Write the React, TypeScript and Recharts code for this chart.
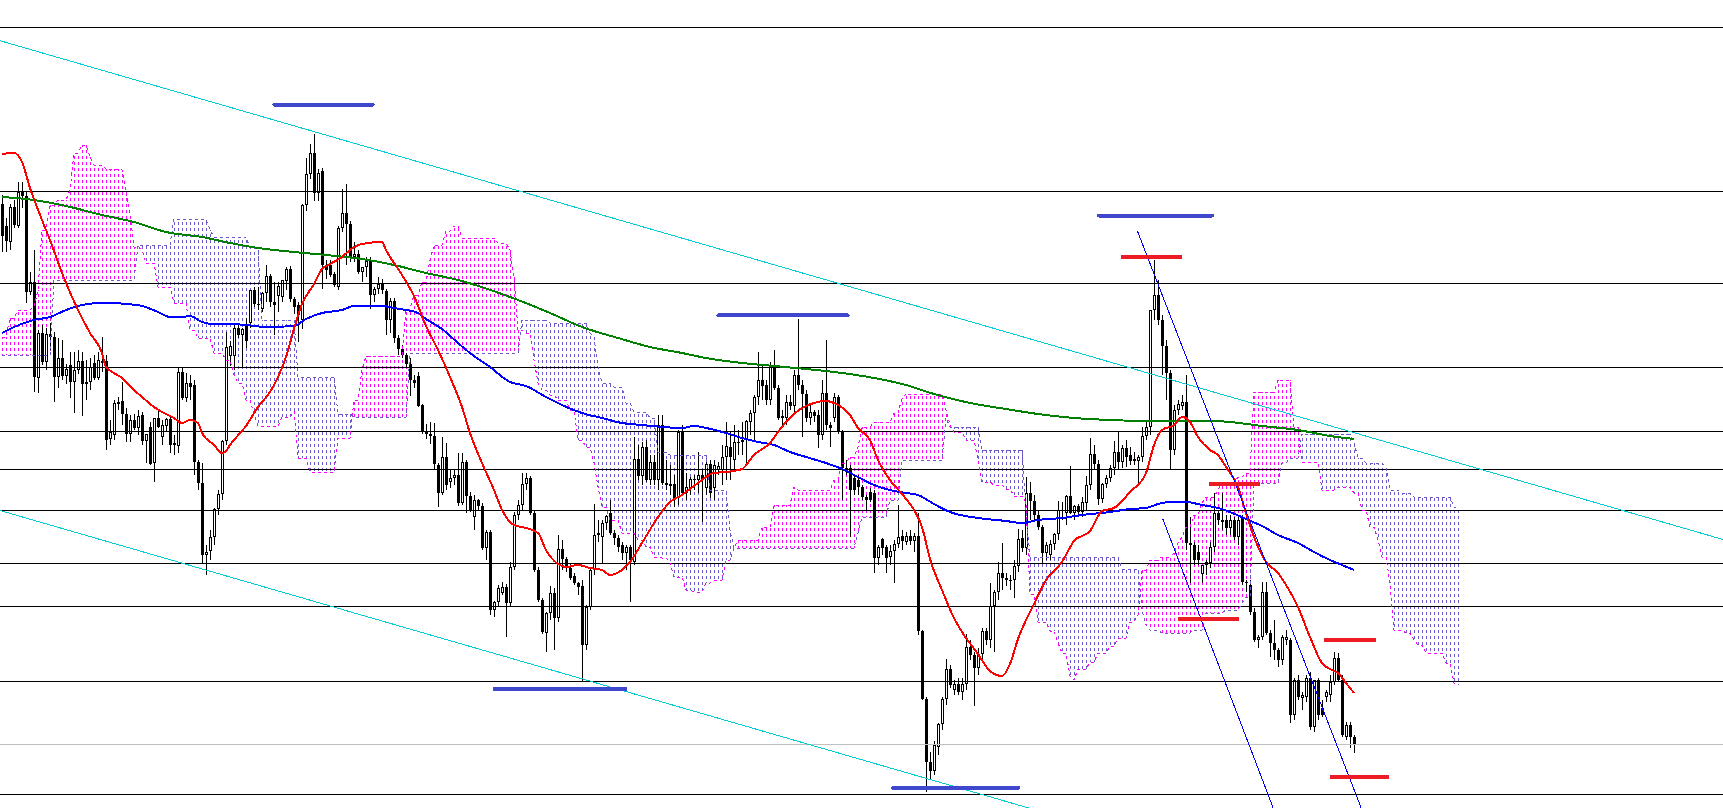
import React from 'react';
import { ComposedChart, Bar, Line, XAxis, YAxis, ReferenceLine } from 'recharts';

// Chart size and value domains (bar index on X, price points on Y)
const W = 1723;
const H = 808;
const X_DOMAIN: [number, number] = [-0.5, 430.25];
const Y_DOMAIN: [number, number] = [192, 1000];

// Candles: [open, high, low, close] in price points, one per bar
const candles: number[][] = [
  [796,805,748,764],[774,782,748,759],[758,796,750,793],[793,800,772,775],[774,818,772,808],[808,818,792,804],[804,808,697,708],[708,728,705,718],[718,750,608,623],[622,670,607,667],
  [667,675,635,638],[638,672,630,666],[666,677,650,663],[663,668,598,623],[623,662,612,642],[642,660,620,624],[624,636,616,631],[635,648,602,618],[618,648,587,630],[630,650,626,639],
  [639,648,584,616],[616,640,600,618],[618,642,610,633],[637,645,620,622],[622,648,620,640],[639,663,628,637],[639,645,550,560],[561,580,555,568],[565,600,560,597],[596,603,590,598],
  [599,618,575,586],[586,592,558,566],[566,585,558,580],[580,586,570,572],[572,590,565,584],[585,588,555,559],[559,566,537,566],[573,578,535,536],[537,582,518,582],[582,590,572,573],
  [563,580,555,575],[574,582,568,581],[581,584,547,555],[557,565,545,555],[554,632,547,628],[628,632,600,602],[602,627,598,617],[617,625,600,613],[615,620,525,538],[538,540,510,517],
  [517,537,437,445],[445,455,425,448],[449,470,440,463],[463,492,455,491],[491,510,485,506],[506,560,500,559],[559,668,555,653],[644,659,634,654],[644,677,630,672],[672,677,662,665],
  [665,672,632,671],[676,682,652,659],[677,710,672,710],[710,713,693,696],[696,713,690,695],[691,708,688,707],[707,735,698,724],[724,726,693,698],[698,718,665,695],[704,718,688,714],
  [703,720,698,720],[719,733,710,731],[731,734,698,701],[701,703,686,693],[695,698,658,685],[680,796,671,795],[795,842,789,826],[826,856,821,847],[847,866,799,807],[807,831,799,827],
  [829,832,711,735],[735,740,721,730],[735,740,723,725],[726,728,713,715],[713,774,710,772],[772,811,768,787],[787,816,735,776],[776,779,738,743],[743,758,738,746],[746,750,726,728],
  [728,733,718,733],[733,743,723,739],[739,743,691,705],[705,713,698,711],[711,723,706,716],[716,721,706,710],[709,711,665,680],[680,702,667,699],[699,702,657,662],[662,665,645,651],
  [651,655,642,645],[645,647,632,636],[636,642,604,620],[620,625,612,617],[624,628,593,594],[595,596,566,568],[568,576,561,566],[566,578,556,564],[564,577,531,536],[535,537,493,507],
  [507,563,505,543],[543,557,510,515],[518,530,512,522],[522,530,515,525],[525,547,494,497],[497,547,495,538],[538,540,487,504],[504,508,488,489],[483,505,470,500],[500,501,490,494],
  [494,497,450,452],[452,470,440,468],[468,470,385,390],[390,399,383,398],[398,415,393,412],[407,418,405,413],[413,416,363,397],[397,438,394,433],[433,488,430,485],[485,500,480,495],
  [495,527,490,516],[516,527,510,522],[522,524,485,487],[487,490,428,430],[430,433,398,400],[400,402,366,368],[367,388,348,387],[387,414,380,407],[407,412,350,382],[382,465,378,451],
  [451,460,430,441],[441,443,428,432],[432,437,420,422],[424,427,415,417],[417,418,405,413],[414,420,318,355],[355,395,350,393],[393,433,390,430],[430,496,425,465],[465,480,458,467],
  [463,480,437,477],[477,485,470,484],[487,500,465,467],[467,470,455,462],[462,465,448,453],[455,458,440,447],[447,455,430,453],[453,455,398,440],[438,563,435,541],[541,555,520,524],
  [524,558,515,553],[553,560,518,520],[520,545,515,538],[538,545,515,520],[520,585,510,575],[575,585,515,517],[517,540,510,515],[516,535,505,514],[516,525,493,502],[502,570,495,568],
  [568,575,505,507],[507,527,500,513],[512,523,505,521],[521,525,510,520],[520,548,507,525],[525,530,478,520],[512,538,505,536],[536,540,502,507],[512,540,500,535],[530,538,525,534],
  [530,555,515,543],[543,578,520,554],[553,568,520,543],[540,575,530,558],[557,570,545,558],[558,578,545,560],[560,580,535,579],[578,590,565,587],[587,605,560,603],[603,648,595,620],
  [620,635,600,614],[615,620,595,600],[600,638,595,635],[635,650,610,612],[612,615,580,582],[582,590,575,584],[582,605,575,598],[598,605,590,594],[594,630,588,625],[625,681,610,615],
  [615,620,563,606],[606,610,578,582],[582,595,575,588],[588,590,578,584],[585,590,552,565],[565,620,560,607],[607,660,570,575],[575,578,553,572],[582,607,578,603],[603,605,566,568],
  [568,570,500,532],[532,540,525,528],[532,535,463,510],[522,525,505,510],[520,525,505,513],[513,515,500,503],[503,505,490,500],[508,512,498,500],[507,510,427,442],[442,455,435,453],
  [461,462,445,452],[453,455,427,442],[443,455,435,449],[449,460,417,456],[456,495,452,463],[464,470,450,459],[458,468,455,464],[464,470,455,459],[459,467,448,464],[464,487,365,369],
  [369,370,300,301],[301,303,208,238],[238,248,220,229],[229,259,225,255],[253,277,245,276],[276,303,270,301],[301,341,295,331],[331,335,312,315],[310,320,305,316],[316,322,305,308],
  [308,322,300,316],[316,366,310,353],[353,360,340,345],[345,348,294,332],[332,352,325,346],[346,372,340,369],[369,372,355,360],[360,417,352,394],[394,410,348,408],[408,438,400,427],
  [427,457,410,422],[422,427,414,420],[420,425,410,419],[420,440,402,434],[434,471,428,461],[462,470,448,452],[452,523,445,507],[507,518,480,499],[499,505,480,485],[485,490,470,473],
  [473,475,437,447],[447,458,440,455],[445,460,440,456],[456,467,450,466],[466,499,460,490],[490,498,480,489],[487,505,475,504],[504,534,486,487],[487,495,480,494],[494,496,484,488],
  [488,503,483,498],[497,524,490,515],[515,562,510,546],[546,555,530,536],[536,540,495,501],[501,517,497,516],[516,525,512,522],[522,535,518,532],[532,559,525,548],[548,568,530,538],
  [538,555,532,552],[552,560,533,543],[545,553,535,539],[541,548,535,539],[539,545,517,543],[543,573,538,564],[564,580,560,573],[573,690,565,690],[690,740,680,705],[705,720,675,680],
  [680,685,625,654],[654,660,600,627],[627,630,530,550],[550,595,545,590],[590,600,585,596],[594,605,590,598],[598,625,450,457],[457,483,417,455],[455,458,435,440],[448,455,435,440],
  [426,435,417,435],[435,440,425,438],[437,458,432,453],[453,507,448,487],[487,490,475,480],[478,507,470,480],[480,485,465,472],[472,485,465,480],[480,483,460,463],[463,485,455,480],
  [482,485,415,418],[418,420,408,417],[415,420,385,388],[388,392,358,360],[360,365,352,363],[363,418,360,408],[408,418,365,367],[367,370,343,357],[357,380,340,350],[350,352,333,340],
  [340,365,335,363],[360,370,355,363],[360,362,277,285],[285,322,280,320],[320,325,300,303],[302,308,290,305],[303,325,298,322],[322,328,270,273],[273,320,268,320],[320,322,280,285],
  [292,300,283,285],[303,310,298,308],[305,325,298,318],[318,348,315,342],[342,347,318,320],[320,325,263,265],[263,278,260,275],[275,278,252,263],[263,265,247,256],
];

// Moving averages: [bar index, value]
const redMA: number[][] = [
  [0,846],[3,847],[5,838],[7,812],[10,780],[12,760],[15,727],[19,690],[22,667],[25,647],[26,633],[28,627],[30,622],[33,610],[35,603],[38,593],[40,588],[43,582],[45,577],[47,580],[49,577],[50,567],[53,555],[55,547],[56,549],[57,555],[61,574],[64,593],[67,608],[69,623],[71,643],[73,671],[75,696],[78,716],[80,731],[82,736],[85,743],[87,750],[90,756],[95,758],[96,750],[100,725],[103,704],[106,674],[109,650],[112,623],[115,593],[117,567],[120,537],[123,510],[125,490],[128,475],[131,472],[134,467],[136,450],[139,436],[141,433],[144,435],[147,432],[150,430],[152,425],[155,430],[157,438],[160,457],[164,483],[167,498],[170,505],[174,517],[178,527],[181,528],[185,531],[188,545],[192,557],[194,568],[196,578],[200,592],[203,597],[206,599],[208,597],[212,585],[214,572],[217,560],[219,540],[222,520],[225,506],[228,490],[230,473],[232,441],[235,410],[238,382],[240,368],[244,346],[247,329],[250,324],[252,336],[254,361],[258,396],[261,420],[265,438],[268,459],[272,469],[275,489],[278,492],[282,508],[286,527],[288,555],[290,570],[293,575],[295,583],[297,578],[299,563],[302,550],[304,545],[306,533],[309,513],[311,487],[313,463],[316,438],[319,427],[321,415],[324,393],[327,363],[330,337],[333,329],[334,327],[336,317],[338,307],
];
const blueMA: number[][] = [
  [0,667],[3,673],[8,680],[12,683],[16,690],[20,695],[25,697],[28,697],[31,696],[35,694],[39,688],[42,683],[45,683],[47,684],[50,678],[53,676],[57,676],[61,675],[66,673],[73,674],[76,681],[80,687],[85,690],[88,694],[95,694],[98,692],[101,690],[104,687],[106,681],[110,671],[114,657],[117,647],[122,633],[127,618],[131,614],[136,603],[140,595],[145,587],[150,582],[155,577],[160,575],[170,572],[173,574],[176,572],[181,567],[185,562],[189,558],[193,555],[197,548],[201,543],[206,537],[210,531],[214,523],[218,515],[222,510],[226,507],[229,505],[233,496],[237,488],[244,482],[251,479],[255,477],[259,480],[265,482],[270,485],[277,488],[282,491],[286,492],[289,496],[292,498],[296,498],[300,495],[304,492],[307,488],[311,481],[315,474],[319,465],[324,457],[328,448],[332,440],[335,435],[338,430],
];
const greenMA: number[][] = [
  [0,803],[8,800],[16,794],[25,785],[33,778],[41,768],[50,763],[57,757],[64,752],[73,748],[81,745],[90,741],[98,735],[106,727],[114,720],[129,700],[137,687],[145,673],[154,662],[162,653],[170,647],[176,642],[185,637],[193,634],[201,631],[210,627],[218,622],[226,615],[233,606],[242,597],[251,591],[259,586],[268,582],[277,580],[286,579],[303,579],[307,578],[315,574],[324,570],[332,564],[338,561],
];

// Ichimoku cloud spans, as step breakpoints: [first bar index, value]
const spanA: number[][] = [
  [0,663],[2,682],[4,690],[8,693],[9,710],[10,770],[12,795],[14,800],[17,810],[18,847],[20,855],[22,843],[23,835],[26,831],[30,830],[31,810],[32,787],[33,753],[35,750],[36,737],[39,713],[43,697],[47,670],[49,662],[53,647],[56,640],[58,625],[59,617],[61,600],[63,586],[64,574],[70,583],[73,589],[74,542],[77,528],[84,562],[88,600],[90,630],[91,644],[101,691],[103,705],[105,718],[107,740],[108,755],[111,769],[113,774],[115,762],[124,757],[127,750],[128,723],[129,670],[131,667],[133,640],[134,617],[135,610],[137,605],[139,600],[142,590],[144,560],[146,553],[148,537],[149,513],[150,493],[152,480],[155,467],[159,460],[161,453],[163,443],[165,442],[167,437],[168,423],[171,410],[173,408],[176,417],[178,420],[181,440],[183,452],[184,460],[190,473],[193,495],[198,513],[199,510],[208,520],[210,537],[212,543],[214,553],[215,573],[218,578],[223,587],[225,602],[226,606],[236,590],[237,575],[238,568],[241,560],[244,540],[245,518],[248,515],[251,511],[253,504],[256,497],[257,406],[259,378],[262,369],[264,357],[265,347],[267,324],[268,320],[269,331],[272,338],[274,347],[277,354],[279,362],[282,378],[284,385],[285,430],[287,440],[290,443],[293,447],[294,457],[295,463],[296,473],[298,485],[300,497],[301,503],[304,510],[305,517],[309,523],[311,527],[313,608],[319,620],[323,573],[325,538],[330,510],[334,513],[338,507],[340,490],[342,473],[344,460],[345,443],[347,417],[348,370],[351,367],[353,360],[354,355],[356,347],[361,337],[363,317],[364,315],
];
const spanB: number[][] = [
  [0,645],[13,720],[34,755],[43,781],[52,770],[53,763],[62,752],[65,680],[74,623],[84,586],[88,583],[102,647],[130,680],[137,677],[147,667],[148,663],[149,633],[150,617],[153,613],[156,597],[158,588],[162,582],[164,548],[167,545],[177,510],[182,470],[183,452],[214,467],[215,483],[222,500],[225,540],[236,582],[237,573],[245,550],[256,490],[257,443],[280,431],[285,390],[286,375],[287,370],[290,367],[298,370],[301,387],[306,390],[310,397],[311,403],[313,517],[320,537],[322,542],[325,566],[338,557],[339,542],[341,537],[346,532],[347,510],[350,507],[353,503],[363,493],[364,492],
];
const CLOUD_BARS = 365;

// Horizontal levels (black), current bid (gray)
const hLevels: number[] = [973, 809, 717, 633, 569, 531, 490, 437, 394, 319, 206];
const bidLevel = 256;

// Drawn objects: channel (cyan), steep trend lines (blue), marker bars
const channelLines: number[][][] = [
  [[-0.5, 959.3], [430.25, 460.5]],
  [[-0.5, 489.5], [430.25, -8.8]],
];
const trendLines: number[][][] = [
  [[283.85, 769], [339.75, 192.5]],
  [[290.2, 481], [317.75, 192.5]],
];
// [from bar, to bar, level]
const blueMarks: number[][] = [
  [68.1, 92.7, 895.5], [179.1, 211.4, 684.6], [274.2, 302.6, 784.5], [123.1, 155.9, 311], [222.8, 254.0, 212],
];
const redMarks: number[][] = [
  [279.8, 295, 743.5], [301.7, 314.6, 516], [294, 309.3, 381.5], [330.6, 343.5, 360], [331.9, 346.8, 223],
];

const MAGENTA = '#ff00ff';
const SLATE = '#6a5acd';
const DASH_ON = 3;
const DASH_OFF = 3;

function stepAt(pts: number[][], i: number): number {
  let v = pts[0][1];
  for (const [k, val] of pts) {
    if (k <= i) v = val;
    else break;
  }
  return v;
}

const rows = Array.from({ length: CLOUD_BARS }, (_, i) => {
  const k = candles[i];
  const a = stepAt(spanA, i);
  const b = stepAt(spanB, i);
  return {
    i,
    o: k ? k[0] : null,
    h: k ? k[1] : null,
    l: k ? k[2] : null,
    c: k ? k[3] : null,
    rng: k ? [k[2], k[1]] : null,
    a,
    b,
    kr: [Math.min(a, b), Math.max(a, b)],
  };
});

const toPts = (arr: number[][]) => arr.map(([i, v]) => ({ i, v }));
const redData = toPts(redMA);
const blueData = toPts(blueMA);
const greenData = toPts(greenMA);

function CandleShape(props: any) {
  const { x, y, width, height, payload } = props;
  if (!payload || payload.o == null || !isFinite(x) || !isFinite(y)) return <g />;
  const { o, h, l, c } = payload;
  const cx = Math.round(x + width / 2);
  const yTop = Math.min(y, y + height);
  const hh = Math.abs(height);
  const span = h - l;
  const py = (v: number) => yTop + (span === 0 ? 0 : ((h - v) / span) * hh);
  const top = Math.round(py(Math.max(o, c)));
  const bot = Math.round(py(Math.min(o, c)));
  const bull = c >= o;
  return (
    <g>
      <line x1={cx + 0.5} x2={cx + 0.5} y1={Math.round(yTop)} y2={Math.round(yTop + hh)} stroke="#000" strokeWidth={1} />
      {bull && bot - top >= 2 ? (
        <rect x={cx - 0.5} y={top + 0.5} width={2} height={bot - top - 1} fill="#fff" stroke="#000" strokeWidth={1} />
      ) : (
        <rect x={cx - 1} y={top} width={3} height={Math.max(bot - top, 1)} fill="#000" />
      )}
    </g>
  );
}

function CloudShape(props: any) {
  const { x, y, width, height, payload } = props;
  if (!payload || !isFinite(x) || !isFinite(y)) return <g />;
  const cx = Math.round(x + width / 2);
  const yTop = Math.round(Math.min(y, y + height));
  const hh = Math.round(Math.abs(height));
  const color = payload.a >= payload.b ? MAGENTA : SLATE;
  const period = DASH_ON + DASH_OFF;
  const phase = ((yTop % period) + period) % period;
  return (
    <line
      x1={cx + 0.5}
      x2={cx + 0.5}
      y1={yTop}
      y2={yTop + hh}
      stroke={color}
      strokeWidth={1}
      strokeDasharray={`${DASH_ON} ${DASH_OFF}`}
      strokeDashoffset={phase}
    />
  );
}

export default function App() {
  return (
    <div className="mt4" style={{ position: 'absolute', left: 0, top: 0, width: W, height: H, background: '#fff', overflow: 'hidden' }}>
      <style>{`body{margin:0;background:#fff}.mt4 svg *{shape-rendering:crispEdges}`}</style>
      <ComposedChart width={W} height={H} data={rows} margin={{ top: 0, right: 0, bottom: 0, left: 0 }}>
        <XAxis xAxisId={0} dataKey="i" type="number" domain={X_DOMAIN} hide allowDataOverflow />
        <XAxis xAxisId="k" dataKey="i" type="number" domain={X_DOMAIN} hide allowDataOverflow />
        <YAxis type="number" domain={Y_DOMAIN} hide allowDataOverflow />

        {hLevels.map((v) => (
          <ReferenceLine key={'h' + v} y={v} stroke="#000" strokeWidth={1} ifOverflow="visible" />
        ))}
        <ReferenceLine y={bidLevel} stroke="#c0c0c0" strokeWidth={1} ifOverflow="visible" />

        <Bar xAxisId="k" dataKey="kr" barSize={1} shape={CloudShape} isAnimationActive={false} />
        <Line xAxisId="k" dataKey="a" type="linear" stroke={MAGENTA} strokeWidth={1} strokeDasharray="3 3" dot={false} activeDot={false} isAnimationActive={false} />
        <Line xAxisId="k" dataKey="b" type="linear" stroke={SLATE} strokeWidth={1} strokeDasharray="3 3" dot={false} activeDot={false} isAnimationActive={false} />

        <Bar dataKey="rng" barSize={3} shape={CandleShape} isAnimationActive={false} />

        <Line data={greenData} dataKey="v" type="monotone" stroke="#008000" strokeWidth={2} dot={false} activeDot={false} isAnimationActive={false} />
        <Line data={blueData} dataKey="v" type="monotone" stroke="#0000ff" strokeWidth={2} dot={false} activeDot={false} isAnimationActive={false} />
        <Line data={redData} dataKey="v" type="monotone" stroke="#ff0000" strokeWidth={2} dot={false} activeDot={false} isAnimationActive={false} />

        {channelLines.map((s, k) => (
          <ReferenceLine key={'ch' + k} segment={[{ x: s[0][0], y: s[0][1] }, { x: s[1][0], y: s[1][1] }]} stroke="#00ced1" strokeWidth={1} ifOverflow="visible" />
        ))}
        {trendLines.map((s, k) => (
          <ReferenceLine key={'tl' + k} segment={[{ x: s[0][0], y: s[0][1] }, { x: s[1][0], y: s[1][1] }]} stroke="#0000ff" strokeWidth={1} ifOverflow="visible" />
        ))}
        {blueMarks.map((m, k) => (
          <ReferenceLine key={'bm' + k} segment={[{ x: m[0], y: m[2] }, { x: m[1], y: m[2] }]} stroke="#3f48cc" strokeWidth={4} strokeLinecap="round" ifOverflow="visible" />
        ))}
        {redMarks.map((m, k) => (
          <ReferenceLine key={'rm' + k} segment={[{ x: m[0], y: m[2] }, { x: m[1], y: m[2] }]} stroke="#ed1c24" strokeWidth={4} ifOverflow="visible" />
        ))}
      </ComposedChart>
    </div>
  );
}
